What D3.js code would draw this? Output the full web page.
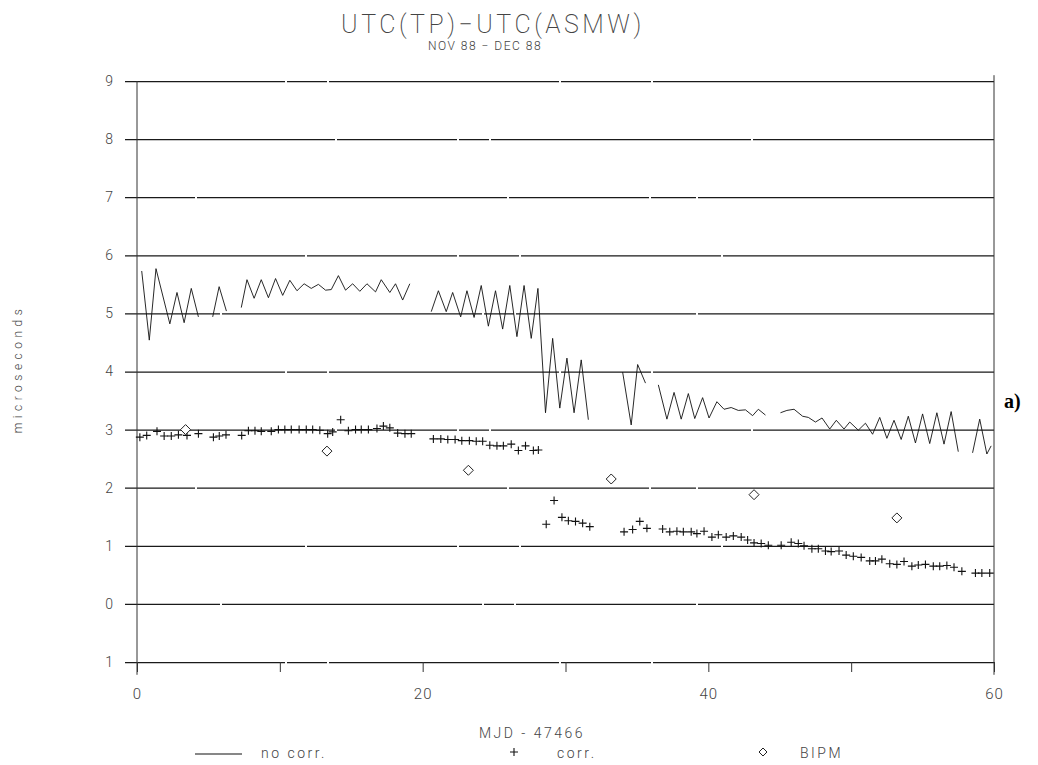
<!DOCTYPE html>
<html>
<head>
<meta charset="utf-8">
<script src="https://cdn.jsdelivr.net/npm/d3@7"></script>
<style>
  html, body { margin: 0; padding: 0; background: #fff; }
  svg { display: block; }
  .thin { font-family: Roboto, Lato, "DejaVu Sans", sans-serif; font-weight: 300; fill: #444; }
</style>
</head>
<body>
<svg id="chart" width="1038" height="765"></svg>
<script>
// UTC(TP) - UTC(ASMW), twice-daily comparisons, Nov-Dec 1988 (MJD - 47466)

// Uncorrected differences (null = break in the record)
const noCorrDays = [
  0.33, 0.86, 1.33, 2.3, 2.8, 3.3, 3.8, 4.3, null,
  5.3, 5.75, 6.26, null,
  7.3, 7.7, 8.2, 8.7, 9.2, 9.7, 10.2, 10.7, 11.2, 11.7, 12.2, 12.7, 13.2, 13.6,
  14.1, 14.6, 15.1, 15.6, 16.1, 16.7, 17.1, 17.7, 18.1, 18.6, 19.1, null,
  20.6, 21.1, 21.65, 22.1, 22.66, 23.1, 23.6, 24.1, 24.6, 25.1, 25.6, 26.1, 26.6,
  27.1, 27.6, 28.07, 28.6, 29.1, 29.6, 30.1, 30.6, 31.1, 31.6, null,
  34.0, 34.6, 35.05, 35.6, null,
  36.5, 37.1, 37.6, 38.1, 38.6, 39.05, 39.6, 40.05, 40.6, 41.1, 41.6, 42.1, 42.6,
  43.1, 43.5, 44.0, null,
  45.05, 45.5, 46.0, 46.6, 47.0, 47.5, 47.96, 48.5, 48.96, 49.5, 49.9, 50.5, 51.0,
  51.5, 52.0, 52.5, 53.0, 53.5, 54.0, 54.5, 55.0, 55.5, 56.0, 56.5, 57.0, 57.5, null,
  58.5, 59.0, 59.5, 59.8
];
const noCorrValues = [
  5.73, 4.54, 5.77, 4.82, 5.36, 4.84, 5.43, 4.94, null,
  4.94, 5.46, 5.04, null,
  5.10, 5.58, 5.26, 5.58, 5.27, 5.60, 5.31, 5.57, 5.39, 5.51, 5.43, 5.50, 5.40, 5.41,
  5.65, 5.40, 5.51, 5.38, 5.51, 5.37, 5.58, 5.36, 5.51, 5.23, 5.51, null,
  5.03, 5.39, 5.03, 5.36, 4.94, 5.39, 4.93, 5.48, 4.78, 5.39, 4.73, 5.48, 4.60,
  5.48, 4.57, 5.43, 3.29, 4.57, 3.37, 4.23, 3.29, 4.20, 3.17, null,
  3.99, 3.08, 4.12, 3.80, null,
  3.77, 3.18, 3.64, 3.18, 3.62, 3.19, 3.55, 3.20, 3.48, 3.35, 3.38, 3.33, 3.34,
  3.24, 3.35, 3.25, null,
  3.29, 3.33, 3.35, 3.23, 3.21, 3.13, 3.20, 3.01, 3.16, 3.01, 3.13, 2.99, 3.11,
  2.92, 3.21, 2.85, 3.16, 2.83, 3.23, 2.77, 3.27, 2.76, 3.29, 2.75, 3.31, 2.62, null,
  2.60, 3.18, 2.58, 2.72
];

// Corrected differences
const corrDays = [
  0.2, 0.68, 1.4, 1.9, 2.4, 2.9, 3.5, 4.3, 5.35, 5.76, 6.23, 7.33, 7.8, 8.26, 8.7,
  9.4, 9.9, 10.35, 10.8, 11.35, 11.85, 12.3, 12.8, 13.35, 13.7, 14.26, 14.8, 15.3,
  15.7, 16.2, 16.8, 17.25, 17.7, 18.25, 18.76, 19.2,
  20.75, 21.27, 21.76, 22.27, 22.74, 23.27, 23.75, 24.2, 24.7, 25.2, 25.65, 26.2,
  26.7, 27.2, 27.75, 28.1,
  28.65, 29.2, 29.75, 30.2, 30.7, 31.2, 31.7,
  34.1, 34.7, 35.2, 35.7, 36.8, 37.3, 37.8, 38.25, 38.8, 39.2, 39.7, 40.25, 40.7,
  41.25, 41.75, 42.3, 42.75, 43.2, 43.7, 44.2, 45.1, 45.8, 46.3, 46.7, 47.25, 47.7,
  48.2, 48.6, 49.15, 49.65, 50.15, 50.7, 51.3, 51.7, 52.15, 52.7, 53.2, 53.7, 54.25,
  54.7, 55.2, 55.75, 56.2, 56.7, 57.2, 57.75, 58.7, 59.15, 59.7
];
const corrValues = [
  2.87, 2.90, 2.97, 2.89, 2.89, 2.91, 2.90, 2.93, 2.87, 2.89, 2.91, 2.90, 2.98, 2.98, 2.97,
  2.97, 3.00, 3.00, 3.00, 3.00, 3.00, 3.00, 2.99, 2.93, 2.96, 3.17, 2.98, 3.00,
  3.00, 3.00, 3.02, 3.06, 3.03, 2.94, 2.93, 2.93,
  2.84, 2.84, 2.83, 2.83, 2.81, 2.81, 2.80, 2.80, 2.73, 2.72, 2.72, 2.75,
  2.64, 2.72, 2.64, 2.65,
  1.37, 1.78, 1.49, 1.43, 1.42, 1.39, 1.33,
  1.24, 1.28, 1.42, 1.30, 1.29, 1.24, 1.25, 1.24, 1.24, 1.21, 1.25, 1.15, 1.19,
  1.15, 1.17, 1.15, 1.10, 1.05, 1.04, 1.01, 1.01, 1.06, 1.04, 1.00, 0.95, 0.95,
  0.91, 0.90, 0.91, 0.84, 0.82, 0.80, 0.74, 0.74, 0.77, 0.69, 0.68, 0.73, 0.65,
  0.67, 0.68, 0.65, 0.65, 0.66, 0.63, 0.56, 0.53, 0.53, 0.53
];

// BIPM (Circular T) values
const bipmDays = [3.4, 13.3, 23.2, 33.2, 43.2, 53.2];
const bipmValues = [3.00, 2.63, 2.30, 2.15, 1.88, 1.48];

// Axis ticks and their printed labels
const yTicks = [-1, 0, 1, 2, 3, 4, 5, 6, 7, 8, 9];
const yTickLabels = ["1", "0", "1", "2", "3", "4", "5", "6", "7", "8", "9"];
const xTicks = [0, 10, 20, 30, 40, 50, 60];
const xLabelledTicks = [0, 20, 40, 60];

const svg = d3.select("#chart");

const x = d3.scaleLinear().domain([0, 60]).range([137, 994]);
const y = d3.scaleLinear().domain([-1, 9]).range([662, 81]);

// Horizontal reference lines; the pen stroke has a few small skips.
// Each pattern is dash/gap pairs and ends on a long dash so the line reaches the frame.
const penPatterns = [
  "160 2 40 2 230 2 90 2 1000 0",
  "95 2 260 2 30 2 180 2 1000 0",
  "180 2 150 2 60 2 200 2 1000 0",
  "70 2 310 2 140 2 45 2 1000 0",
  "210 2 120 2 30 2 260 2 1000 0"
];
const yAxis = d3.axisLeft(y)
  .tickValues(yTicks)
  .tickSize(-(x(60) - 125))
  .tickPadding(12)
  .tickFormat((d, i) => yTickLabels[i]);
const gy = svg.append("g").attr("transform", "translate(125,0)").call(yAxis);
gy.select(".domain").remove();
gy.selectAll(".tick line")
  .attr("stroke", "#1a1a1a")
  .attr("stroke-width", 1.25)
  .attr("stroke-dasharray", (d, i) => penPatterns[i % penPatterns.length]);
gy.selectAll(".tick text")
  .attr("class", "thin")
  .style("font-size", "14px");

// Frame verticals
svg.append("line")
  .attr("x1", x(0)).attr("x2", x(0))
  .attr("y1", y(9)).attr("y2", y(-1.22))
  .attr("stroke", "#333").attr("stroke-width", 1);
svg.append("line")
  .attr("x1", x(60)).attr("x2", x(60))
  .attr("y1", y(9.1)).attr("y2", y(-1.22))
  .attr("stroke", "#333").attr("stroke-width", 1);

// Bottom ticks
const xAxis = d3.axisBottom(x)
  .tickValues(xTicks)
  .tickSize(10)
  .tickPadding(16)
  .tickFormat(d => xLabelledTicks.includes(d) ? String(d) : "");
const gx = svg.append("g").attr("transform", `translate(0,${y(-1)})`).call(xAxis);
gx.select(".domain").remove();
gx.selectAll(".tick line").attr("stroke", "#333").attr("stroke-width", 1);
gx.selectAll(".tick text")
  .attr("class", "thin")
  .style("font-size", "15px")
  .style("letter-spacing", "1px");

// Uncorrected series as a broken line
const noCorr = noCorrDays.map((d, i) => ({ d, v: noCorrValues[i] }));
const line = d3.line()
  .defined(p => p.d !== null && p.v !== null)
  .x(p => x(p.d))
  .y(p => y(p.v));
svg.append("path")
  .datum(noCorr)
  .attr("d", line)
  .attr("fill", "none")
  .attr("stroke", "#111")
  .attr("stroke-width", 0.9)
  .attr("stroke-linejoin", "miter");

// Corrected series as plus markers
const h = 4;
svg.append("g").selectAll("path")
  .data(corrDays.map((d, i) => ({ d, v: corrValues[i] })))
  .join("path")
  .attr("d", p => `M${x(p.d) - h},${y(p.v)}H${x(p.d) + h}M${x(p.d)},${y(p.v) - h}V${y(p.v) + h}`)
  .attr("stroke", "#111")
  .attr("stroke-width", 1.1)
  .attr("fill", "none");

// BIPM as diamonds
const diamond = (cx, cy, r) => `M${cx},${cy - r}L${cx + r},${cy}L${cx},${cy + r}L${cx - r},${cy}Z`;
svg.append("g").selectAll("path")
  .data(bipmDays.map((d, i) => ({ d, v: bipmValues[i] })))
  .join("path")
  .attr("d", p => diamond(x(p.d), y(p.v), 5))
  .attr("stroke", "#222")
  .attr("stroke-width", 1)
  .attr("fill", "#fff");

// Titles
svg.append("text")
  .attr("class", "thin")
  .attr("x", 493).attr("y", 33)
  .attr("text-anchor", "middle")
  .style("font-size", "25px")
  .style("font-weight", "200")
  .style("letter-spacing", "3.5px")
  .text("UTC(TP)\u2212UTC(ASMW)");
svg.append("text")
  .attr("class", "thin")
  .attr("x", 485).attr("y", 50)
  .attr("text-anchor", "middle")
  .style("font-size", "12px")
  .style("letter-spacing", "1.5px")
  .text("NOV 88 \u2212 DEC 88");

// Axis titles
svg.append("text")
  .attr("class", "thin")
  .attr("transform", "translate(22,369) rotate(-90)")
  .attr("text-anchor", "middle")
  .style("font-size", "12px")
  .style("letter-spacing", "4.5px")
  .text("microseconds");
svg.append("text")
  .attr("class", "thin")
  .attr("x", 532).attr("y", 738)
  .attr("text-anchor", "middle")
  .style("font-size", "14px")
  .style("letter-spacing", "2.5px")
  .text("MJD  -  47466");

// Legend
const ly = 754;
svg.append("line")
  .attr("x1", 195).attr("x2", 242).attr("y1", ly).attr("y2", ly)
  .attr("stroke", "#111").attr("stroke-width", 1.2);
svg.append("text").attr("class", "thin")
  .attr("x", 261).attr("y", ly + 4)
  .style("font-size", "14px").style("letter-spacing", "2.5px")
  .text("no corr.");
svg.append("path")
  .attr("d", `M${514 - h},${ly - 2}H${514 + h}M514,${ly - 2 - h}V${ly - 2 + h}`)
  .attr("stroke", "#111").attr("stroke-width", 1.1);
svg.append("text").attr("class", "thin")
  .attr("x", 557).attr("y", ly + 4)
  .style("font-size", "14px").style("letter-spacing", "2.5px")
  .text("corr.");
svg.append("path")
  .attr("d", diamond(763, ly - 2, 4))
  .attr("stroke", "#222").attr("stroke-width", 1).attr("fill", "#fff");
svg.append("text").attr("class", "thin")
  .attr("x", 800).attr("y", ly + 4)
  .style("font-size", "14px").style("letter-spacing", "2.5px")
  .text("BIPM");

// Panel tag
svg.append("text")
  .attr("x", 1004).attr("y", 408)
  .style("font-family", "'Liberation Serif', 'DejaVu Serif', serif")
  .style("font-weight", "bold")
  .style("font-size", "20px")
  .attr("fill", "#000")
  .text("a)");
</script>
</body>
</html>
